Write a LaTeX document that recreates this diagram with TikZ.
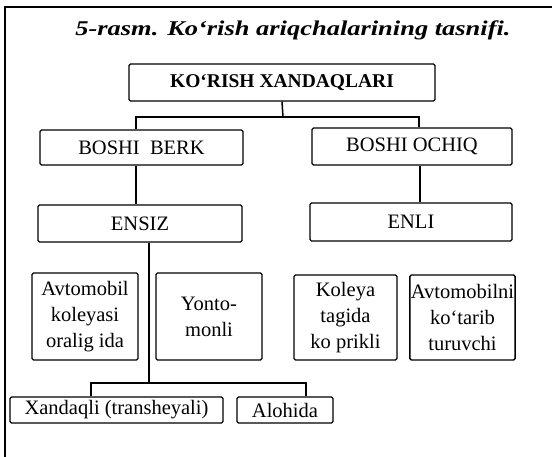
\documentclass[tikz,border=0pt]{standalone}
\usepackage{fontspec}
\setmainfont{Liberation Serif}

\begin{document}
\begin{tikzpicture}[x=1pt, y=-1pt, line width=1.3pt,
    box/.style={draw, rounded corners=1.5pt, inner sep=1pt, align=center,
                font=\fontsize{20.5}{26}\selectfont},
    lnk/.style={line width=1.5pt}]
    \useasboundingbox (0,0) rectangle (552,457);

    %draw frame
    \draw[line width=1.5pt] (5,457) -- (5,7) -- (552,7);
    \node (title) at (293,30) [font=\fontsize{21}{24}\selectfont\bfseries\itshape]
          {\scalebox{1.26}[1]{5-rasm. Ko`rish ariqchalarining tasnifi.}};

    % draw boxes
    \node (top) at (282,82.5) [box, minimum width=306, minimum height=37,
          font=\fontsize{19.5}{24}\selectfont\bfseries] {KO`RISH XANDAQLARI};
    \node (berk) at (141.5,147.5) [box, minimum width=203, minimum height=35] {BOSHI\ \ BERK};
    \node (ochiq) at (412,146.5) [box, minimum width=200, minimum height=37] {BOSHI OCHIQ};
    \node (ensiz) at (140,223.5) [box, minimum width=204, minimum height=37] {ENSIZ};
    \node (enli) at (411,222) [box, minimum width=202, minimum height=38] {ENLI};
    \node (avto) at (85,316.5) [box, minimum width=106, minimum height=87] {Avtomobil\\koleyasi\\oralig ida};
    \node (yonto) at (209,316.5) [box, minimum width=106, minimum height=87] {Yonto-\\monli};
    \node (koleya) at (345.5,317.5) [box, minimum width=103, minimum height=85] {Koleya\\tagida\\ko prikli};
    \node (kotarib) at (462.5,317.5) [box, minimum width=99, minimum height=85] {Avtomobilni\\ko`tarib\\turuvchi};
    \node (xandaq) at (116.5,410) [box, minimum width=213, minimum height=26] {Xandaqli (transheyali)};
    \node (alohida) at (285,410) [box, minimum width=96, minimum height=26] {Alohida};

    % draw connectors
    \coordinate (fork) at (283,117);
    \coordinate (fork2) at (149,383);
    \draw[lnk] (top.south) -- (fork);
    \draw[lnk] ([xshift=-5.5pt]berk.north) |- (fork) -| ([xshift=7pt]ochiq.north);
    \draw[lnk] ([xshift=-5.5pt]berk.south) -- ([xshift=-5.5pt]berk.south |- ensiz.north);
    \draw[lnk] ([xshift=8pt]ochiq.south) -- ([xshift=8pt]ochiq.south |- enli.north);
    \draw[lnk] ([xshift=9pt]ensiz.south) -- (fork2);
    \draw[lnk] ([xshift=-25.5pt]xandaq.north) |- (fork2) -| ([xshift=21pt]alohida.north);
\end{tikzpicture}
\end{document}
